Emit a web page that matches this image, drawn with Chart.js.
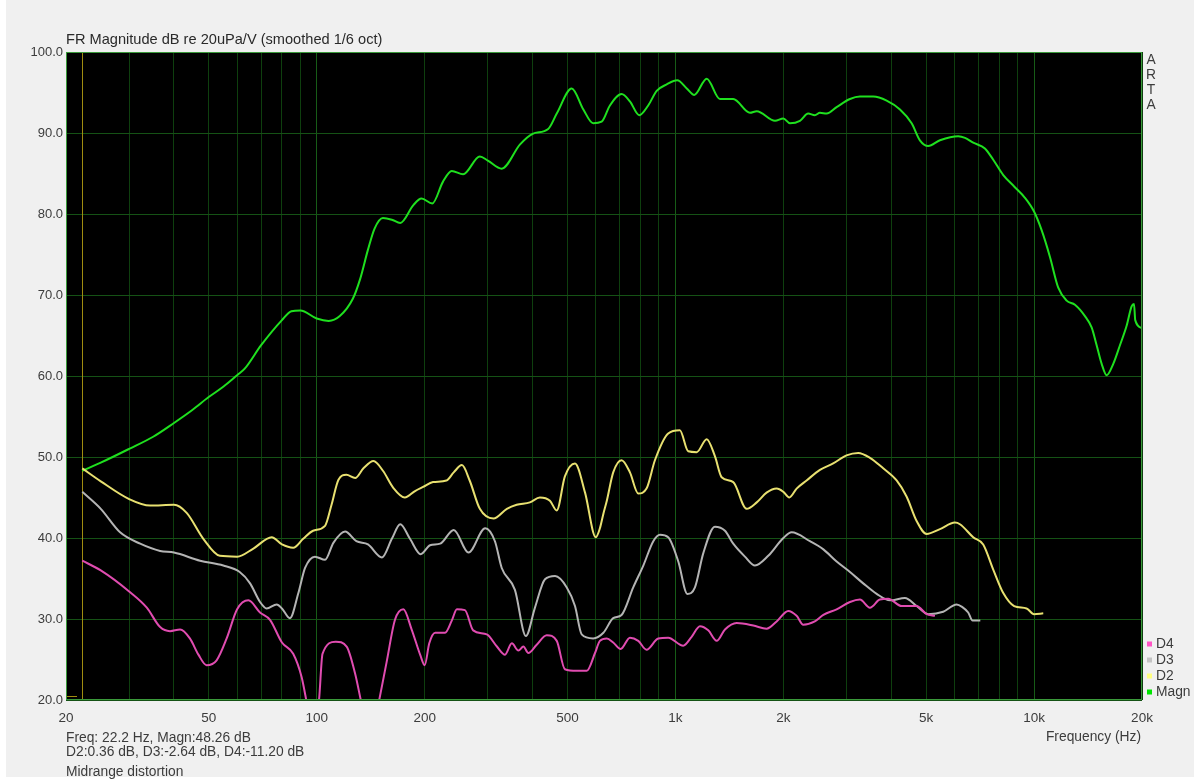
<!DOCTYPE html>
<html>
<head>
<meta charset="utf-8">
<script src="https://cdn.jsdelivr.net/npm/chart.js@4.4.1/dist/chart.umd.min.js"></script>
<style>
  html, body { margin: 0; padding: 0; background: #ffffff; }
  canvas { display: block; }
</style>
</head>
<body>
<canvas id="fr" width="1194" height="782"></canvas>
<script>
// Fundamental magnitude response (dB re 20uPa/V)
const magnHz = [22.2, 25, 30, 35, 40, 45, 50, 55, 60, 63, 70, 80, 85, 90, 100, 108, 116, 126, 132, 139,
  145, 153, 162, 171, 186, 196, 210, 225, 238, 256, 285, 300, 328, 369, 400, 442, 467, 514, 554, 590,
  623, 657, 708, 747, 793, 840, 887, 946, 1012, 1076, 1129, 1223, 1331, 1450, 1614, 1686, 1896, 2000, 2087, 2225,
  2346, 2448, 2530, 2641, 2816, 3068, 3270, 3562, 3882, 4229, 4558, 4806, 5070, 5466, 6146, 6420, 6767, 7295, 7696, 8208,
  8800, 9432, 10000, 10500, 11077, 11682, 12329, 13003, 13866, 14474, 14947, 15437, 15940, 16630, 17360, 18120, 18710, 19000, 19150, 20000];
const magnDb = [48.3, 49.3, 51.0, 52.5, 54.2, 55.8, 57.4, 58.7, 60.1, 60.9, 63.8, 66.9, 68.0, 68.1, 67.1, 66.8, 67.4, 69.5, 71.9, 75.6,
  78.2, 79.5, 79.3, 78.9, 81.1, 81.9, 81.3, 84.0, 85.3, 84.9, 87.1, 86.6, 85.6, 88.6, 89.9, 90.5, 92.4, 95.5, 92.9, 91.2,
  91.4, 93.4, 94.8, 93.9, 92.2, 93.4, 95.2, 96.0, 96.5, 95.5, 94.7, 96.7, 94.2, 94.2, 92.5, 92.7, 91.5, 91.8, 91.2, 91.5,
  92.4, 92.2, 92.5, 92.4, 93.2, 94.2, 94.5, 94.5, 94.0, 92.9, 91.2, 89.1, 88.4, 89.1, 89.6, 89.4, 88.8, 88.1, 86.7, 84.8,
  83.4, 82.0, 80.3, 78.0, 74.7, 70.9, 69.3, 68.8, 67.4, 66.0, 63.8, 61.5, 60.1, 61.5, 63.8, 66.2, 68.6, 68.9, 66.9, 65.9];

// 2nd harmonic
const d2Hz = [22.2, 25, 30, 34.3, 40, 43.4, 48.3, 53.7, 60, 66.6, 74.9, 80, 86, 91.7, 97.7, 105.5, 110, 115, 121, 128,
  135, 144, 153, 163.5, 176, 188, 198, 211, 230, 241, 254, 267, 285, 311, 339, 361, 393, 419, 447, 467,
  492, 525, 560, 600, 616, 630, 644, 671, 708, 747, 788, 831, 877, 955, 1029, 1086, 1147, 1223, 1289, 1346,
  1450, 1580, 1686, 1796, 1916, 2000, 2078, 2178, 2322, 2530, 2754, 3000, 3235, 3487, 3797, 4139, 4415, 4706, 5018, 5466,
  6016, 6215, 6767, 7216, 7696, 8208, 8800, 9535, 10000, 10610];
const d2Db = [48.6, 47.0, 44.8, 44.0, 44.1, 43.1, 39.9, 37.8, 37.7, 38.7, 40.1, 39.2, 38.8, 39.9, 40.9, 41.5, 44.1, 47.2, 47.8, 47.4,
  48.6, 49.5, 48.3, 46.2, 45.0, 45.8, 46.3, 46.9, 47.1, 48.1, 49.0, 47.1, 43.6, 42.4, 43.6, 44.1, 44.4, 45.0, 44.6, 43.4,
  47.6, 49.2, 45.6, 40.1, 41.2, 43.0, 44.6, 48.1, 49.6, 48.1, 45.5, 46.1, 49.6, 52.9, 53.3, 50.7, 50.6, 52.2, 50.1, 47.5,
  46.9, 43.6, 44.4, 45.6, 46.1, 45.7, 45.0, 46.1, 47.1, 48.4, 49.2, 50.2, 50.5, 49.9, 48.6, 47.1, 45.1, 42.1, 40.5, 41.1,
  41.9, 41.7, 40.1, 39.2, 36.1, 33.2, 31.6, 31.3, 30.6, 30.7];

// 3rd harmonic
const d3Hz = [22.2, 25, 28.3, 32.2, 36.6, 40, 47.3, 54.9, 61, 65.2, 69.5, 72.5, 77.4, 80, 84.2, 88.9, 92.8, 98.9, 105.5, 111.3,
  120, 129, 139, 152, 162, 171, 182, 195, 207, 221, 241, 265, 295, 314, 328, 357, 383, 406, 433, 462,
  498, 525, 548, 590, 630, 671, 708, 763, 814, 868, 906, 955, 1019, 1080, 1134, 1196, 1289, 1375, 1450, 1563,
  1667, 1815, 2000, 2110, 2373, 2586, 2816, 3068, 3340, 3641, 3966, 4366, 4706, 5070, 5583, 6084, 6300, 6553, 6740, 7083];
const d3Db = [45.7, 43.6, 40.7, 39.3, 38.4, 38.2, 37.2, 36.6, 35.8, 34.4, 32.1, 31.3, 31.8, 31.3, 30.1, 33.2, 36.3, 37.7, 37.3, 39.4,
  40.8, 39.6, 39.2, 37.6, 39.9, 41.7, 39.9, 38.0, 39.1, 39.3, 41.0, 38.2, 41.2, 39.6, 36.3, 33.6, 27.9, 31.4, 34.9, 35.3,
  33.9, 31.6, 28.1, 27.6, 28.3, 30.1, 30.5, 33.9, 36.6, 39.6, 40.4, 40.1, 37.1, 33.1, 33.9, 38.1, 41.4, 40.9, 39.3, 37.7,
  36.6, 37.8, 40.0, 40.7, 39.6, 38.6, 37.1, 35.8, 34.4, 33.1, 32.3, 32.6, 31.6, 30.6, 30.9, 31.8, 31.5, 30.8, 29.8, 29.8];

// 4th harmonic
const d4Hz = [22.2, 25, 30, 33.6, 36.6, 39, 41.6, 44.3, 46.8, 49.3, 52.6, 56.1, 60, 64.5, 69.5, 74.1, 80, 86, 90.8, 93.5,
  97.5, 101.5, 103.8, 113, 121.2, 127.9, 132.7, 141, 149.4, 156.7, 165.3, 174.4, 184, 194.6, 200, 206, 214, 228, 238, 246,
  259, 273, 298, 318, 335, 350, 365, 377, 389, 410, 438, 467, 492, 531, 566, 597, 616, 644, 671, 704,
  747, 788, 831, 896, 955, 1052, 1110, 1171, 1235, 1304, 1375, 1482, 1649, 1796, 1916, 2064, 2178, 2273, 2448, 2586,
  2816, 3068, 3270, 3487, 3717, 3920, 4275, 4706, 5018, 5294];
const d4Db = [37.2, 36.0, 33.4, 31.4, 29.0, 28.5, 28.7, 27.6, 25.6, 24.3, 24.9, 27.6, 31.2, 32.3, 30.8, 29.9, 27.1, 25.7, 22.8, 20.0,
  15.5, 20.0, 25.7, 27.2, 26.6, 23.3, 20.0, 14.5, 20.0, 24.7, 29.9, 31.2, 28.7, 25.5, 24.3, 27.0, 28.3, 28.3, 29.8, 31.2,
  31.1, 28.6, 28.1, 26.6, 25.6, 27.0, 26.1, 26.6, 25.8, 26.8, 28.0, 27.3, 23.8, 23.6, 23.6, 25.8, 27.3, 27.6, 27.1, 26.3,
  27.7, 27.3, 26.2, 27.6, 27.7, 26.7, 27.8, 29.1, 28.6, 27.3, 28.7, 29.5, 29.2, 28.8, 29.7, 31.0, 30.4, 29.3, 29.7, 30.5,
  31.2, 32.1, 32.4, 31.4, 32.4, 32.5, 31.6, 31.6, 30.6, 30.4];

// Axis ticks
const xGridHz = [20, 30, 40, 50, 60, 70, 80, 90, 100, 200, 300, 400, 500, 600, 700, 800, 900,
  1000, 2000, 3000, 4000, 5000, 6000, 7000, 8000, 9000, 10000, 20000];
const xDecadeHz = [100, 1000, 10000];
const xLabelHz = [20, 50, 100, 200, 500, 1000, 2000, 5000, 10000, 20000];
const xLabelText = ['20', '50', '100', '200', '500', '1k', '2k', '5k', '10k', '20k'];
const yTickDb = [20, 30, 40, 50, 60, 70, 80, 90, 100];

// Cursor readout
const cursorHz = 22.2;
const readoutLines = ['Freq: 22.2 Hz, Magn:48.26 dB', 'D2:0.36 dB, D3:-2.64 dB, D4:-11.20 dB'];
const noteText = 'Midrange distortion';
const titleText = 'FR Magnitude dB re 20uPa/V (smoothed 1/6 oct)';
const axisTitle = 'Frequency (Hz)';
const brandLetters = ['A', 'R', 'T', 'A'];

const toPoints = (hz, db) => hz.map((f, i) => ({ x: f, y: db[i] }));

const FONT = '"Liberation Sans", Arial, sans-serif';
const TEXT = '#3c3c3c';

const series = [
  { label: 'Magn', hz: magnHz, db: magnDb, color: '#1fe01f', key: '#00e600' },
  { label: 'D2', hz: d2Hz, db: d2Db, color: '#e8e070', key: '#ffff80' },
  { label: 'D3', hz: d3Hz, db: d3Db, color: '#b4b4b4', key: '#c4c4c4' },
  { label: 'D4', hz: d4Hz, db: d4Db, color: '#e04cb0', key: '#ff55c4' }
];

const artaFrame = {
  id: 'artaFrame',
  beforeDraw(chart) {
    const { ctx, chartArea: a } = chart;
    ctx.save();
    ctx.fillStyle = '#ffffff';
    ctx.fillRect(0, 0, chart.width, chart.height);
    ctx.fillStyle = '#f0f0f0';
    ctx.fillRect(6, 0, chart.width - 6, 777);
    ctx.fillStyle = '#000000';
    ctx.fillRect(a.left, a.top, a.right - a.left, a.bottom - a.top);
    ctx.restore();
  },
  beforeDatasetsDraw(chart) {
    const { ctx, chartArea: a, scales } = chart;
    const cx = Math.round(scales.x.getPixelForValue(cursorHz)) + 0.5;
    ctx.save();
    ctx.strokeStyle = '#a08c10';
    ctx.lineWidth = 1;
    ctx.beginPath();
    ctx.moveTo(cx, a.top);
    ctx.lineTo(cx, a.bottom);
    ctx.moveTo(a.left, a.bottom - 3.5);
    ctx.lineTo(a.left + 11, a.bottom - 3.5);
    ctx.stroke();
    ctx.restore();
  },
  afterDraw(chart) {
    const { ctx, chartArea: a } = chart;
    ctx.save();
    ctx.strokeStyle = '#3a9a3a';
    ctx.lineWidth = 1;
    ctx.strokeRect(a.left + 0.5, a.top + 0.5, a.right - a.left - 1, a.bottom - a.top - 1);

    ctx.textBaseline = 'middle';
    ctx.textAlign = 'left';
    ctx.font = '14.6px ' + FONT;
    ctx.fillStyle = '#2a2a2a';
    ctx.fillText(titleText, a.left, 40);

    ctx.font = '13.8px ' + FONT;
    ctx.fillStyle = TEXT;
    ctx.textAlign = 'center';
    brandLetters.forEach((ch, i) => ctx.fillText(ch, a.right + 9, 60 + i * 15));

    ctx.textAlign = 'right';
    ctx.fillText(axisTitle, a.right - 1, 737);

    ctx.textAlign = 'left';
    ctx.fillText(readoutLines[0], a.left, 738);
    ctx.fillText(readoutLines[1], a.left, 752);
    ctx.fillText(noteText, a.left, 772);

    // legend, last series on top
    const items = series.slice().reverse();
    items.forEach((s, i) => {
      const y = 644 + i * 16;
      ctx.fillStyle = s.key;
      ctx.fillRect(a.right + 5, y - 2.5, 5, 5);
      ctx.fillStyle = TEXT;
      ctx.fillText(s.label, a.right + 14, y);
    });
    ctx.restore();
  }
};

new Chart(document.getElementById('fr'), {
  type: 'line',
  data: {
    datasets: series.map(s => ({
      label: s.label,
      data: toPoints(s.hz, s.db),
      borderColor: s.color,
      backgroundColor: s.color,
      borderWidth: 2,
      pointRadius: 0,
      cubicInterpolationMode: 'monotone',
      fill: false,
      clip: 0
    })).reverse()
  },
  options: {
    responsive: false,
    animation: false,
    devicePixelRatio: 1,
    layout: { padding: { top: 52, right: 52, bottom: 0, left: 0 } },
    plugins: { legend: { display: false }, tooltip: { enabled: false }, title: { display: false } },
    scales: {
      x: {
        type: 'logarithmic',
        min: 20,
        max: 20000,
        afterBuildTicks: s => { s.ticks = xGridHz.map(v => ({ value: v })); },
        afterFit: s => { s.height = 82; },
        border: { display: false },
        grid: {
          drawTicks: false,
          lineWidth: 1,
          color: c => (c.tick && xDecadeHz.includes(c.tick.value)) ? '#175c17' : '#0e3f0e'
        },
        ticks: {
          autoSkip: false,
          maxRotation: 0,
          minRotation: 0,
          padding: 10,
          color: TEXT,
          font: { family: FONT, size: 13.5 },
          callback: v => { const i = xLabelHz.indexOf(v); return i >= 0 ? xLabelText[i] : ''; }
        }
      },
      y: {
        type: 'linear',
        min: 20,
        max: 100,
        afterBuildTicks: s => { s.ticks = yTickDb.map(v => ({ value: v })); },
        afterFit: s => { s.width = 66; },
        border: { display: false },
        grid: { drawTicks: false, lineWidth: 1, color: '#155215' },
        ticks: {
          padding: 3,
          color: TEXT,
          font: { family: FONT, size: 13 },
          callback: v => Number(v).toFixed(1)
        }
      }
    }
  },
  plugins: [artaFrame]
});
</script>
</body>
</html>
